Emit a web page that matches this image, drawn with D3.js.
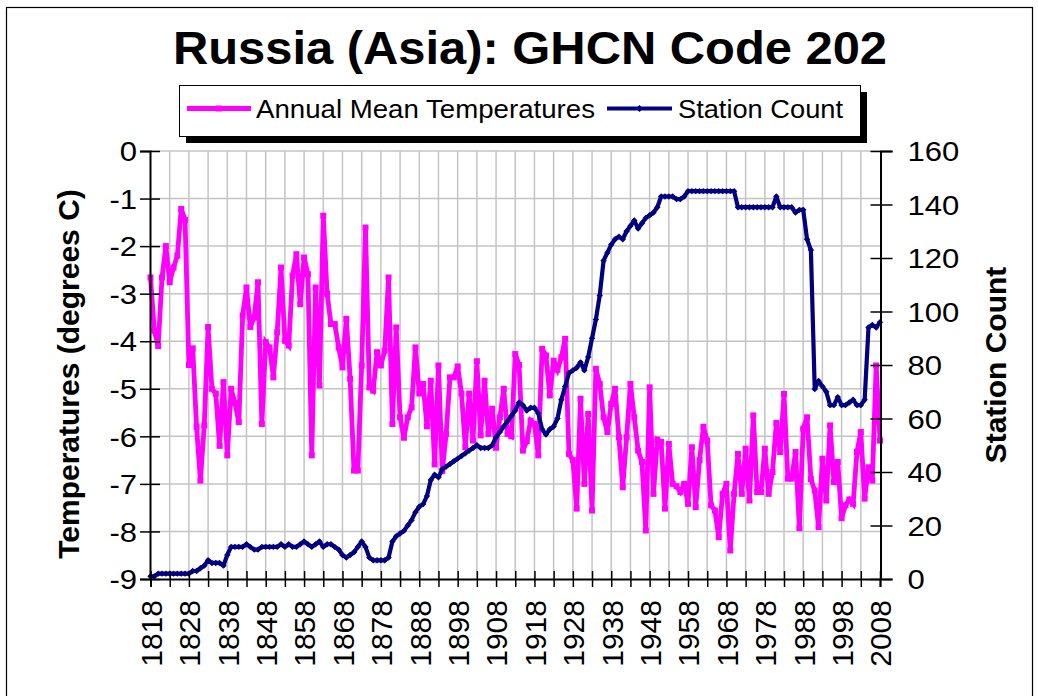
<!DOCTYPE html>
<html>
<head>
<meta charset="utf-8">
<script src="https://cdnjs.cloudflare.com/ajax/libs/d3/7.8.5/d3.min.js"></script>
<style>
  html, body { margin: 0; padding: 0; background: #fff; }
  svg { display: block; }
  text { font-family: "Liberation Sans", Arial, Helvetica, sans-serif; fill: #000; }
</style>
</head>
<body>
<svg id="chart" width="1038" height="696"></svg>
<script>
// ---------------- DATA ----------------
const firstYear = 1818;
const lastYear = 2008;
const titleText = "Russia (Asia): GHCN Code 202";
const seriesNames = ["Annual Mean Temperatures", "Station Count"];
const leftAxisTitle = "Temperatures (degrees C)";
const rightAxisTitle = "Station Count";

// Annual mean temperature (deg C), one value per year 1818..2008
const temperatures = [
  -2.66, -3.78, -4.10, -2.66, -2.00, -2.76, -2.45, -2.20, -1.22, -1.45, // 1818-1827
  -4.50, -4.15, -5.80, -6.93, -5.77, -3.70, -5.00, -5.10, -6.20, -4.86, // 1828-1837
  -6.40, -5.00, -5.30, -5.70, -3.46, -2.87, -3.70, -3.50, -2.76, -5.74, // 1838-1847
  -4.02, -4.13, -4.76, -3.81, -2.45, -3.99, -4.09, -2.62, -2.17, -3.22, // 1848-1857
  -2.24, -2.59, -6.40, -2.87, -4.93, -1.36, -3.00, -3.64, -3.64, -4.13, // 1858-1867
  -4.55, -3.53, -4.79, -6.72, -6.72, -4.51, -1.61, -4.97, -5.04, -4.23, // 1868-1877
  -4.51, -4.20, -2.66, -5.74, -3.71, -5.60, -6.03, -5.60, -5.39, -4.13, // 1878-1887
  -5.10, -4.90, -5.79, -4.83, -6.59, -4.51, -6.73, -5.95, -4.76, -4.76, // 1888-1897
  -4.53, -5.10, -6.23, -5.10, -6.09, -4.42, -5.98, -4.83, -5.95, -5.42, // 1898-1907
  -6.24, -5.60, -5.00, -5.95, -6.00, -4.27, -4.50, -6.30, -6.10, -5.67, // 1908-1917
  -5.74, -6.40, -4.16, -4.30, -5.14, -4.41, -4.60, -4.34, -3.95, -6.37, // 1918-1927
  -6.50, -7.52, -5.21, -7.00, -5.53, -7.56, -4.58, -4.90, -5.60, -5.91, // 1928-1937
  -5.32, -5.00, -6.02, -7.07, -6.02, -4.90, -5.60, -6.30, -6.54, -7.98, // 1938-1947
  -4.97, -7.21, -6.07, -6.12, -7.52, -6.16, -7.00, -7.05, -7.17, -7.00, // 1948-1957
  -7.42, -6.23, -7.49, -6.50, -5.80, -6.09, -7.45, -7.56, -8.12, -7.21, // 1958-1967
  -7.00, -8.40, -7.21, -6.37, -7.21, -6.26, -7.35, -5.56, -7.17, -7.17, // 1968-1977
  -6.26, -7.21, -6.75, -5.72, -6.33, -5.11, -6.89, -6.89, -6.33, -7.93, // 1978-1987
  -5.84, -5.60, -6.90, -7.14, -7.91, -6.47, -7.35, -5.77, -6.96, -6.54, // 1988-1997
  -7.72, -7.45, -7.33, -7.42, -6.33, -5.91, -7.31, -6.65, -6.93, -4.51, // 1998-2007
  -6.09                                                                 // 2008
];

// Station count, one value per year 1818..2008
const stationCounts = [
  1, 1, 2, 2, 2, 2, 2, 2, 2, 2,                 // 1818-1827
  2, 3, 3, 4, 5, 7, 6, 6, 6, 5,                 // 1828-1837
  9, 12, 12, 12, 12, 13, 12, 11, 11, 12,        // 1838-1847
  12, 12, 12, 12, 13, 12, 13, 12, 12, 13,       // 1848-1857
  14, 13, 12, 13, 14, 12, 13, 13, 12, 11,       // 1858-1867
  9, 8, 9, 10, 12, 14, 12, 8, 7, 7,             // 1868-1877
  7, 7, 8, 14, 16, 17, 18, 20, 22, 25,          // 1878-1887
  27, 28, 31, 37, 39, 38, 41, 42, 43, 44,       // 1888-1897
  45, 46, 47, 48, 49, 50, 49, 49, 49, 50,       // 1898-1907
  53, 55, 57, 59, 61, 63, 66, 65, 63, 64,       // 1908-1917
  64, 62, 56, 54, 56, 57, 60, 67, 72, 77,       // 1918-1927
  78, 79, 81, 78, 83, 90, 97, 106, 119, 122,    // 1928-1937
  125, 127, 128, 127, 130, 132, 134, 131, 133, 135, // 1938-1947
  136, 137, 139, 143, 143, 143, 143, 142, 142, 143, // 1948-1957
  145, 145, 145, 145, 145, 145, 145, 145, 145, 145, // 1958-1967
  145, 145, 145, 139, 139, 139, 139, 139, 139, 139, // 1968-1977
  139, 139, 139, 143, 139, 139, 139, 139, 137, 138, // 1978-1987
  138, 127, 123, 71, 74, 72, 70, 65, 65, 68,    // 1988-1997
  65, 65, 66, 67, 65, 65, 67, 94, 95, 94,       // 1998-2007
  96                                            // 2008
];

const yearLabelTicks = d3.range(1818, 2009, 10);
const yearMinorTicks = d3.range(1818, 2009, 5);
const temperatureTicks = [0, -1, -2, -3, -4, -5, -6, -7, -8, -9];
const stationTicks = [0, 20, 40, 60, 80, 100, 120, 140, 160];

// ---------------- CHART ----------------
const svg = d3.select("#chart");
const plot = { left: 150.5, right: 880, top: 151, bottom: 579 };

const years = temperatures.map((_, i) => firstYear + i);

const x = d3.scaleLinear().domain([firstYear, lastYear]).range([plot.left, plot.right]);
const yT = d3.scaleLinear().domain([-9, 0]).range([plot.bottom, plot.top]);
const yS = d3.scaleLinear().domain([0, 160]).range([plot.bottom, plot.top]);

// outer frame
svg.append("rect").attr("x", 6.5).attr("y", 7.5).attr("width", 1026).attr("height", 720)
  .attr("fill", "#fff").attr("stroke", "#000").attr("stroke-width", 1.2);

// title
svg.append("text")
  .attr("x", 530).attr("y", 64)
  .attr("text-anchor", "middle")
  .attr("font-size", 46).attr("font-weight", "bold")
  .attr("textLength", 714).attr("lengthAdjust", "spacingAndGlyphs")
  .text(titleText);

// legend
const lg = svg.append("g");
lg.append("rect").attr("x", 186).attr("y", 92).attr("width", 681).attr("height", 51).attr("fill", "#000");
lg.append("rect").attr("x", 179.5).attr("y", 85.5).attr("width", 681).attr("height", 51)
  .attr("fill", "#fff").attr("stroke", "#000").attr("stroke-width", 1);
lg.append("line").attr("x1", 187).attr("x2", 251).attr("y1", 108.5).attr("y2", 108.5)
  .attr("stroke", "#ff00ff").attr("stroke-width", 5);
lg.append("rect").attr("x", 216).attr("y", 105.5).attr("width", 6).attr("height", 6).attr("fill", "#ff00ff");
lg.append("text").attr("x", 256).attr("y", 118).attr("font-size", 25)
  .attr("textLength", 339).attr("lengthAdjust", "spacingAndGlyphs").text(seriesNames[0]);
lg.append("line").attr("x1", 607).attr("x2", 672).attr("y1", 108.5).attr("y2", 108.5)
  .attr("stroke", "#000080").attr("stroke-width", 4);
lg.append("path").attr("d", "M639.5,105 L643,108.5 L639.5,112 L636,108.5 Z").attr("fill", "#000080");
lg.append("text").attr("x", 678).attr("y", 118).attr("font-size", 25)
  .attr("textLength", 165).attr("lengthAdjust", "spacingAndGlyphs").text(seriesNames[1]);

// gridlines
const grid = svg.append("g");
grid.selectAll("line.v").data(yearMinorTicks.filter(d => d > firstYear && d < lastYear)).enter()
  .append("line").attr("class", "v")
  .attr("x1", d => x(d)).attr("x2", d => x(d)).attr("y1", plot.top).attr("y2", plot.bottom)
  .attr("stroke", "#c4c4c4").attr("stroke-width", 1.5);
grid.selectAll("line.h").data(temperatureTicks.filter(d => d > -9)).enter()
  .append("line").attr("class", "h")
  .attr("x1", plot.left).attr("x2", plot.right).attr("y1", d => yT(d)).attr("y2", d => yT(d))
  .attr("stroke", "#c4c4c4").attr("stroke-width", 1.5);

// series
const tempLine = d3.line().x((d, i) => x(years[i])).y(d => yT(d));
const stLine = d3.line().x((d, i) => x(years[i])).y(d => yS(d));

svg.append("path").datum(temperatures).attr("d", tempLine)
  .attr("fill", "none").attr("stroke", "#ff00ff").attr("stroke-width", 4.8)
  .attr("stroke-linejoin", "miter").attr("stroke-miterlimit", 3);
svg.append("g").selectAll("rect").data(temperatures).enter().append("rect")
  .attr("x", (d, i) => x(years[i]) - 3).attr("y", d => yT(d) - 3)
  .attr("width", 6).attr("height", 6).attr("fill", "#ff00ff");

svg.append("path").datum(stationCounts).attr("d", stLine)
  .attr("fill", "none").attr("stroke", "#000080").attr("stroke-width", 4.2)
  .attr("stroke-linejoin", "round");
svg.append("g").selectAll("path").data(stationCounts).enter().append("path")
  .attr("d", (d, i) => {
    const cx = x(years[i]), cy = yS(d);
    return `M${cx},${cy - 3.2} L${cx + 3.2},${cy} L${cx},${cy + 3.2} L${cx - 3.2},${cy} Z`;
  })
  .attr("fill", "#000080");

// axes
const fontTick = 27;
const axL = svg.append("g").attr("transform", `translate(${plot.left - 0.5},0)`)
  .call(d3.axisLeft(yT).tickValues(temperatureTicks).tickSize(10).tickFormat(d3.format("d")));
axL.select(".domain").attr("stroke", "#000").attr("stroke-width", 2);
axL.selectAll(".tick line").attr("x1", 10).attr("x2", -10).attr("stroke", "#000").attr("stroke-width", 1.5);
axL.selectAll(".tick text")
  .attr("x", 0).attr("dy", "0.36em")
  .attr("transform", "translate(-13,0) scale(1.15,1)")
  .attr("font-size", fontTick).attr("font-family", "Liberation Sans, Arial, sans-serif")
  .text(d => d === 0 ? "0" : String(d).replace("\u2212", "-"));

const axR = svg.append("g").attr("transform", `translate(${plot.right + 0.5},0)`)
  .call(d3.axisRight(yS).tickValues(stationTicks).tickSize(12));
axR.select(".domain").attr("stroke", "#000").attr("stroke-width", 2);
axR.selectAll(".tick line").attr("x1", -10).attr("x2", 12).attr("stroke", "#000").attr("stroke-width", 1.5);
axR.selectAll(".tick text")
  .attr("x", 0).attr("dy", "0.36em")
  .attr("transform", "translate(27,0) scale(1.15,1)")
  .attr("font-size", fontTick).attr("font-family", "Liberation Sans, Arial, sans-serif");

const axB = svg.append("g").attr("transform", `translate(0,${plot.bottom})`)
  .call(d3.axisBottom(x).tickValues(yearMinorTicks).tickSize(8)
    .tickFormat(d => yearLabelTicks.includes(d) ? String(d) : ""));
axB.select(".domain").attr("stroke", "#000").attr("stroke-width", 2);
axB.selectAll(".tick line").attr("y1", -8).attr("y2", 8).attr("stroke", "#000").attr("stroke-width", 1.5);
axB.selectAll(".tick text")
  .attr("transform", "rotate(-90)")
  .attr("x", -21).attr("y", 0).attr("dy", "0.36em")
  .attr("text-anchor", "end")
  .attr("font-size", 30).attr("font-family", "Liberation Sans, Arial, sans-serif");

// axis titles
svg.append("text")
  .attr("transform", "translate(79,374) rotate(-90)")
  .attr("text-anchor", "middle").attr("font-size", 30).attr("font-weight", "bold")
  .text(leftAxisTitle);
svg.append("text")
  .attr("transform", "translate(1006,365) rotate(-90)")
  .attr("text-anchor", "middle").attr("font-size", 30).attr("font-weight", "bold")
  .text(rightAxisTitle);
</script>
</body>
</html>
